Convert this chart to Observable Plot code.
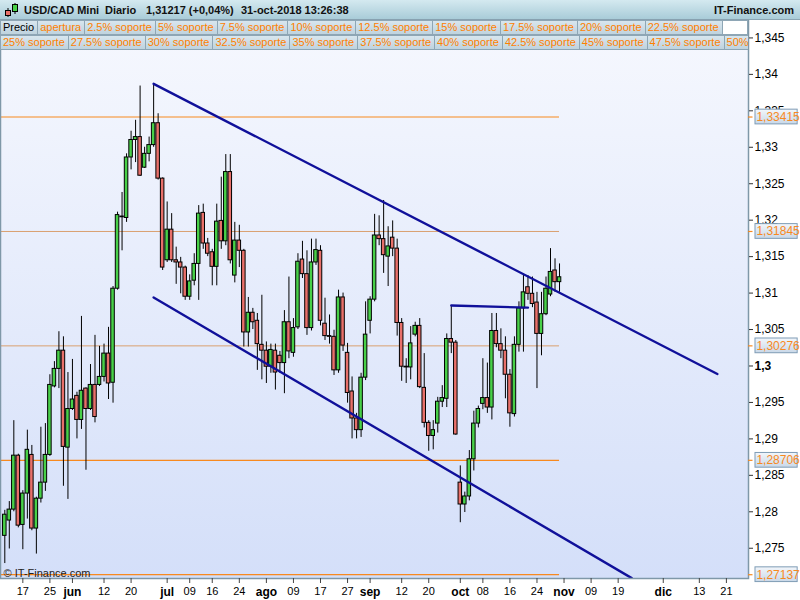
<!DOCTYPE html>
<html><head><meta charset="utf-8">
<script src="https://cdn.jsdelivr.net/npm/d3@7"></script>
<script src="https://cdn.jsdelivr.net/npm/@observablehq/plot@0.6"></script>
<style>
body{margin:0;background:#fff;font-family:"Liberation Sans",Arial,sans-serif;}
#wrap{position:relative;width:800px;height:600px;overflow:hidden;background:#fff;}
#hdr{position:relative;height:20px;background:linear-gradient(#d4e9f0,#a9ccd8);box-sizing:border-box;border-bottom:1px solid #8ba5b3;font-size:11px;font-weight:bold;color:#111;white-space:pre;}
#hdr span{position:absolute;top:4px;}
#icon{position:absolute;left:3px;top:3px;width:16px;height:14px;}
#legend{position:absolute;top:20px;left:0;width:748px;font-size:11px;}
.row{display:flex;height:15px;overflow:hidden;white-space:nowrap;width:748px;}
.cell{box-sizing:border-box;height:15px;line-height:13px;padding:0 3px 0 2px;border:1px solid #8ea6b5;margin-right:-1px;margin-bottom:-1px;background:linear-gradient(#d8e6ee,#bfd3de);color:#ff8000;flex:none;}
.cell.k{color:#000;}
.fill{flex:1 1 auto;height:15px;background:#fff;border:1px solid #8ea6b5;box-sizing:border-box;}
#chart{position:absolute;top:20px;left:0;}
</style></head>
<body><div id="wrap">
<div id="hdr"><svg id="icon" viewBox="0 0 16 14"><line x1="5" y1="5" x2="5" y2="14" stroke="#000"/><rect x="2.5" y="7.5" width="5" height="5" fill="#e8706a" stroke="#000"/><line x1="12" y1="0" x2="12" y2="11" stroke="#000"/><rect x="9.5" y="1.5" width="5" height="7" fill="#48d048" stroke="#000"/></svg><span style="left:24px">USD/CAD Mini</span><span style="left:105px">Diario</span><span style="left:146px">1,31217 (+0,04%)</span><span style="left:241px">31-oct-2018 13:26:38</span><span style="right:6px">IT-Finance.com</span></div>
<div id="chart"></div>
<div id="legend"></div>
</div>
<script>
// ---------- data ----------
const firstDay = "2018-05-11";
const open = [1.2767,1.2788,1.2803,1.2877,1.2782,1.2825,1.2878,1.2777,1.2818,1.2840,
1.2878,1.2972,1.2996,1.3021,1.2888,1.2941,1.2959,1.2926,1.2969,1.2941,
1.2974,1.2974,1.2985,1.3017,1.2977,1.3106,1.3204,1.3203,1.3286,1.3310,
1.3314,1.3272,1.3291,1.3303,1.3333,1.3257,1.3145,1.3187,1.3145,1.3142,
1.3135,1.3095,1.3117,1.3140,1.3210,1.3168,1.3156,1.3136,1.3199,1.3171,
1.3266,1.3124,1.3172,1.3158,1.3046,1.3073,1.3062,1.3029,1.3021,1.2999,
1.3021,1.3014,1.3004,1.3060,1.3018,1.3053,1.3146,1.3126,1.3052,1.3142,
1.3158,1.3058,1.3041,1.3040,1.2994,1.3094,1.3018,1.2965,1.2928,1.2912,
1.2984,1.3062,1.3091,1.3179,1.3174,1.3150,1.3176,1.3161,1.3059,1.2998,
1.2998,1.3043,1.3055,1.2970,1.2922,1.2904,1.2921,1.2951,1.2955,1.3037,
1.3032,1.2840,1.2810,1.2821,1.2872,1.2921,1.2948,1.2956,1.2943,1.3048,
1.3030,1.3021,1.2988,1.2934,1.3029,1.3079,1.3108,1.3099,1.3087,1.3044,
1.3071,1.3098,1.3131,1.3115];
const high = [1.2802,1.2814,1.2925,1.2879,1.2829,1.2912,1.2891,1.2820,1.2916,1.2921,
1.2988,1.3006,1.3047,1.3040,1.2991,1.3009,1.2964,1.3068,1.2970,1.3002,
1.3042,1.3027,1.3030,1.3053,1.3109,1.3211,1.3238,1.3291,1.3322,1.3337,
1.3384,1.3300,1.3314,1.3387,1.3346,1.3258,1.3225,1.3209,1.3163,1.3149,
1.3137,1.3125,1.3154,1.3220,1.3222,1.3175,1.3160,1.3222,1.3259,1.3290,
1.3290,1.3197,1.3193,1.3160,1.3094,1.3079,1.3072,1.3097,1.3033,1.3030,
1.3030,1.3020,1.3076,1.3122,1.3065,1.3154,1.3171,1.3158,1.3174,1.3174,
1.3165,1.3093,1.3070,1.3049,1.3104,1.3100,1.3031,1.2985,1.2935,1.2990,
1.3088,1.3095,1.3208,1.3206,1.3227,1.3191,1.3199,1.3174,1.3065,1.3010,
1.3054,1.3060,1.3065,1.3017,1.2925,1.2925,1.2957,1.2973,1.3044,1.3083,
1.3035,1.2863,1.2827,1.2884,1.2938,1.2945,1.3010,1.3004,1.3072,1.3072,
1.3051,1.3040,1.2995,1.3040,1.3088,1.3126,1.3124,1.3122,1.3101,1.3101,
1.3122,1.3161,1.3147,1.3140];
const low = [1.2729,1.2749,1.2800,1.2778,1.2748,1.2790,1.2774,1.2742,1.2812,1.2828,
1.2876,1.2970,1.2969,1.2835,1.2817,1.2939,1.2900,1.2913,1.2857,1.2939,
1.2922,1.2972,1.2978,1.2954,1.2949,1.3104,1.3158,1.3197,1.3269,1.3279,
1.3260,1.3271,1.3280,1.3300,1.3255,1.3131,1.3142,1.3142,1.3112,1.3099,
1.3090,1.3090,1.3110,1.3090,1.3160,1.3150,1.3110,1.3110,1.3160,1.3165,
1.3140,1.3114,1.3135,1.3026,1.3026,1.3050,1.2994,1.2981,1.2976,1.2990,
1.2967,1.2990,1.2962,1.3010,1.3012,1.3050,1.3120,1.3042,1.3048,1.3138,
1.3055,1.3035,1.3030,1.2987,1.2990,1.3020,1.2949,1.2900,1.2900,1.2902,
1.2980,1.3044,1.3088,1.3165,1.3127,1.3109,1.3150,1.3041,1.2979,1.2976,
1.2981,1.3040,1.2969,1.2915,1.2883,1.2885,1.2908,1.2943,1.2943,1.3017,
1.2905,1.2785,1.2799,1.2815,1.2856,1.2915,1.2940,1.2935,1.2926,1.3025,
1.3010,1.2955,1.2916,1.2930,1.3019,1.3019,1.3090,1.3080,1.2969,1.3014,
1.3069,1.3095,1.3101,1.3101];
const close = [1.2796,1.2803,1.2877,1.2781,1.2825,1.2885,1.2777,1.2818,1.2840,1.2878,
1.2974,1.2996,1.3021,1.2889,1.2941,1.2954,1.2926,1.2966,1.2941,1.2974,
1.2930,1.2985,1.3017,1.2976,1.3106,1.3207,1.3205,1.3286,1.3310,1.3314,
1.3261,1.3291,1.3303,1.3333,1.3257,1.3135,1.3187,1.3145,1.3142,1.3135,
1.3095,1.3116,1.3140,1.3209,1.3168,1.3154,1.3136,1.3198,1.3171,1.3266,
1.3145,1.3172,1.3158,1.3046,1.3073,1.3060,1.3030,1.3021,1.2999,1.3022,
1.2991,1.3004,1.3060,1.3020,1.3052,1.3143,1.3126,1.3052,1.3142,1.3159,
1.3062,1.3041,1.3040,1.2994,1.3094,1.3028,1.2963,1.2928,1.2912,1.2984,
1.3043,1.3091,1.3179,1.3174,1.3152,1.3164,1.3161,1.3059,1.2999,1.2999,
1.3031,1.3055,1.2971,1.2922,1.2904,1.2912,1.2951,1.2956,1.3037,1.3032,
1.2906,1.2810,1.2821,1.2872,1.2921,1.2941,1.2956,1.2943,1.3048,1.3030,
1.3021,1.2988,1.2935,1.3029,1.3079,1.3101,1.3099,1.3085,1.3044,1.3071,
1.3106,1.3129,1.3115,1.31217];

const levels = [1.33415, 1.31845, 1.30276, 1.28706, 1.27137];
const levelStrong = [true, false, false, true, true];
const upperTrend = [["2018-06-27", 1.3387], ["2018-12-19", 1.2989]];
const lowerTrend = [["2018-06-27", 1.3094], ["2018-11-22", 1.2709]];
const flatLine  = [["2018-09-27", 1.3083], ["2018-10-22", 1.3080]];
const xTickDates  = ["2018-05-17","2018-05-25","2018-06-01","2018-06-12","2018-06-20","2018-07-02","2018-07-09","2018-07-16","2018-07-24","2018-08-01","2018-08-09","2018-08-17","2018-08-27","2018-09-03","2018-09-12","2018-09-20","2018-10-01","2018-10-08","2018-10-16","2018-10-24","2018-11-01","2018-11-09","2018-11-19","2018-12-03","2018-12-13","2018-12-21"];
const xTickLabels = ["17","25","jun","12","20","jul","09","16","24","ago","09","17","27","sep","12","20","oct","08","16","24","nov","09","19","dic","13","21"];
const yTicks = [1.275,1.28,1.285,1.29,1.295,1.3,1.305,1.31,1.315,1.32,1.325,1.33,1.335,1.34,1.345];
const legendRow1 = ["Precio","apertura","2.5% soporte","5% soporte","7.5% soporte","10% soporte","12.5% soporte","15% soporte","17.5% soporte","20% soporte","22.5% soporte"];
const legendRow2 = ["25% soporte","27.5% soporte","30% soporte","32.5% soporte","35% soporte","37.5% soporte","40% soporte","42.5% soporte","45% soporte","47.5% soporte","50% soporte"];
const monthNames = ["jun","jul","ago","sep","oct","nov","dic"];

// ---------- trading-day calendar (weekdays) ----------
const days = [];
{ const d = new Date(firstDay + "T00:00:00Z");
  while (days.length < 200) { const w = d.getUTCDay(); if (w !== 0 && w !== 6) days.push(d.toISOString().slice(0,10)); d.setUTCDate(d.getUTCDate()+1); } }
const dayIndex = new Map(days.map((s,i)=>[s,i]));
const toPts = arr => arr.map(([d,p]) => ({k: dayIndex.get(d), p}));

const candles = open.map((o,i)=>({k:i, open:o, high:high[i], low:low[i], close:close[i]}));
const up = candles.filter(d=>d.close>=d.open), dn = candles.filter(d=>d.close<d.open);
const ticks = xTickDates.map((d,i)=>({k: dayIndex.get(d), label: xTickLabels[i], month: monthNames.includes(xTickLabels[i])}));

const xDomain = [-0.953, 164.9];
const yDomain = [1.27085, 1.34739];
const xMax = xDomain[1];
const lastK = candles.length - 1;
const orange = "#f7891f";
const fmtY = v => d3.format(".3~f")(v).replace(".", ",");
const fmtL = v => d3.format(".5f")(v).replace(".", ",");
const boxH = 0.00101;

function defs() {
  const s = d3.create("svg:defs");
  const g = s.append("linearGradient").attr("id","bgGrad").attr("x1",0).attr("y1",0).attr("x2",0).attr("y2",1);
  g.append("stop").attr("offset","0%").attr("stop-color","#f6f8fe");
  g.append("stop").attr("offset","100%").attr("stop-color","#d4dff9");
  const b = s.append("linearGradient").attr("id","boxGrad").attr("x1",0).attr("y1",0).attr("x2",0).attr("y2",1);
  b.append("stop").attr("offset","0%").attr("stop-color","#f2f6fb");
  b.append("stop").attr("offset","100%").attr("stop-color","#c9d8e8");
  return s.node();
}

const chart = Plot.plot({
  width: 800, height: 580,
  marginTop: 0, marginBottom: 22, marginLeft: 0, marginRight: 52,
  x: {domain: xDomain, axis: null, label: null},
  y: {domain: yDomain, axis: null, label: null},
  style: {fontFamily: "'Liberation Sans', Arial, sans-serif", background: "transparent", overflow: "visible"},
  marks: [
    defs,
    Plot.frame({fill: "url(#bgGrad)"}),
    Plot.ruleY(levels.filter((v,i)=>levelStrong[i]), {y: d=>d, x1: xDomain[0], x2: lastK, stroke: orange, strokeWidth: 1.2}),
    Plot.ruleY(levels.filter((v,i)=>!levelStrong[i]), {y: d=>d, x1: xDomain[0], x2: lastK, stroke: "#d9a070", strokeWidth: 1}),
    Plot.ruleX(candles, {x: "k", y1: "low", y2: "high", stroke: "#000", strokeWidth: 1}),
    Plot.rect(up, {x1: d=>d.k-0.39, x2: d=>d.k+0.39, y1: "open", y2: "close", fill: "#48d048", stroke: "#000", strokeWidth: 1}),
    Plot.rect(dn, {x1: d=>d.k-0.39, x2: d=>d.k+0.39, y1: "open", y2: "close", fill: "#e8706a", stroke: "#000", strokeWidth: 1}),
    Plot.line(toPts(flatLine), {x: "k", y: "p", stroke: "#10109a", strokeWidth: 2.4}),
    Plot.line(toPts(upperTrend), {x: "k", y: "p", stroke: "#10109a", strokeWidth: 2.4, clip: true}),
    Plot.line(toPts(lowerTrend), {x: "k", y: "p", stroke: "#10109a", strokeWidth: 2.4, clip: true}),
    Plot.text(["© IT-Finance.com"], {frameAnchor: "bottom-left", dx: 3, dy: -2, fontSize: 11, fill: "#222", textAnchor: "start", lineAnchor: "bottom"}),
    Plot.frame({stroke: "#7f98a8", strokeWidth: 1.5}),
    // right axis
    Plot.axisY(yTicks.filter(v=>v!==1.3), {anchor: "right", label: null, tickSize: 4, tickPadding: 2, tickFormat: fmtY, fontSize: 12, fill: "#000", stroke: "#333"}),
    Plot.axisY([1.3], {anchor: "right", label: null, tickSize: 4, tickPadding: 2, tickFormat: fmtY, fontSize: 12, fontWeight: "bold", fill: "#000", stroke: "#333"}),
    Plot.ruleY(levels, {y: d=>d, x1: xMax, x2: xMax + 1.0, stroke: orange, strokeWidth: 1.2}),
    Plot.rect(levels, {x1: xMax + 1.55, x2: xMax + 10.9, y1: d=>d-boxH, y2: d=>d+boxH, fill: "url(#boxGrad)", stroke: "#7f9cb5", strokeWidth: 1}),
    Plot.text(levels, {x: xMax + 1.75, y: d=>d, text: fmtL, textAnchor: "start", fill: orange, fontSize: 12}),
    // bottom axis
    Plot.axisX(ticks.filter(t=>!t.month).map(t=>t.k), {anchor: "bottom", label: null, tickSize: 5, tickPadding: 4, tickFormat: k => ticks.find(t=>t.k===k).label, fontSize: 11, fill: "#000", stroke: "#444"}),
    Plot.axisX(ticks.filter(t=>t.month).map(t=>t.k), {anchor: "bottom", label: null, tickSize: 5, tickPadding: 4, tickFormat: k => ticks.find(t=>t.k===k).label, fontSize: 12, fontWeight: "bold", fill: "#000", stroke: "#444"})
  ]
});
document.getElementById("chart").appendChild(chart);

// legend rows
const leg = document.getElementById("legend");
[legendRow1, legendRow2].forEach((row, r) => {
  const div = document.createElement("div"); div.className = "row";
  row.forEach((t, i) => { const c = document.createElement("div"); c.className = "cell" + (r===0 && i===0 ? " k" : ""); c.textContent = t; div.appendChild(c); });
  if (r === 0) { const f = document.createElement("div"); f.className = "fill"; div.appendChild(f); }
  leg.appendChild(div);
});
</script>
</body></html>
